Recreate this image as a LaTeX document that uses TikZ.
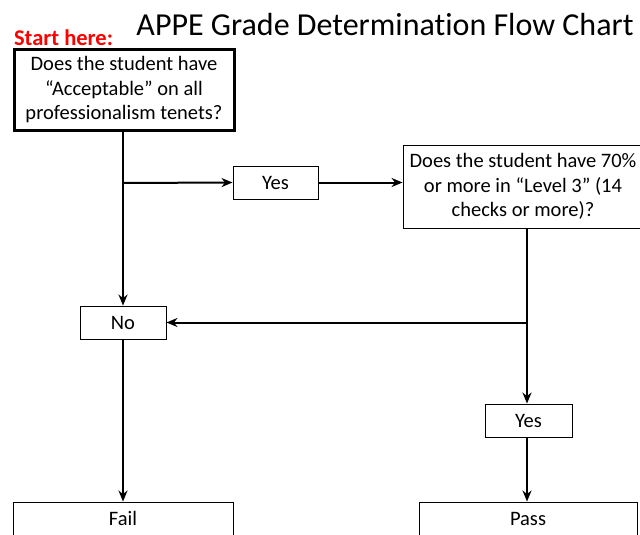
\documentclass[tikz,border=0pt]{standalone}
\usepackage{fontspec}
\setmainfont{Carlito}[Ligatures=NoCommon]
\usetikzlibrary{arrows.meta}
\tikzset{
  box/.style={draw=black, line width=0.9pt, fill=white, align=center, inner sep=1pt,
    font=\fontsize{20.5}{24.5}\selectfont},
  thickbox/.style={box, line width=3pt},
  conn/.style={line width=2pt, -{Stealth[length=11pt,width=9pt,inset=3.5pt]}},
  plain/.style={line width=2pt}
}
\begin{document}
\begin{tikzpicture}[x=1pt,y=-1pt]
\useasboundingbox (0,0) rectangle (640,535);
\node[font=\fontsize{32}{36}\selectfont] (title) at (385,25) {APPE Grade Determination Flow Chart};
\node[font=\bfseries\fontsize{22.5}{26}\selectfont, text=red] (start) at (63.5,38) {Start here:};
\node[thickbox, minimum width=220pt, minimum height=80pt] (q1) at (124,90)
  {Does the student have\\“Acceptable” on all\\professionalism tenets?};
\node[box, minimum width=85pt, minimum height=33pt] (yes1) at (275.5,182.5) {Yes};
\node[box, minimum width=240pt, minimum height=83pt] (q2) at (523,186.5)
  {Does the student have 70\%\\or more in “Level 3” (14\\checks or more)?};
\node[box, minimum width=86pt, minimum height=33pt] (no) at (123,322.5) {No};
\node[box, minimum width=87pt, minimum height=33pt] (yes2) at (528.5,420.5) {Yes};
\node[box, minimum width=220pt, minimum height=33pt] (fail) at (123,518.5) {Fail};
\node[box, minimum width=218pt, minimum height=33pt] (pass) at (528,518.5) {Pass};
\coordinate (b1) at (123,183);
\coordinate (b2) at (527,322.5);
\draw[conn] (q1.south -| b1) -- (no.north);
\draw[conn] (b1) -- (yes1.west);
\draw[conn] (yes1.east) -- (yes1.east -| q2.west);
\draw[plain] (q2.south -| b2) -- (b2);
\draw[conn] (b2) -- (no.east);
\draw[conn] (b2) -- (yes2.north -| b2);
\draw[conn] (no.south) -- (fail.north);
\draw[conn] (yes2.south -| b2) -- (pass.north -| b2);
\end{tikzpicture}
\end{document}
